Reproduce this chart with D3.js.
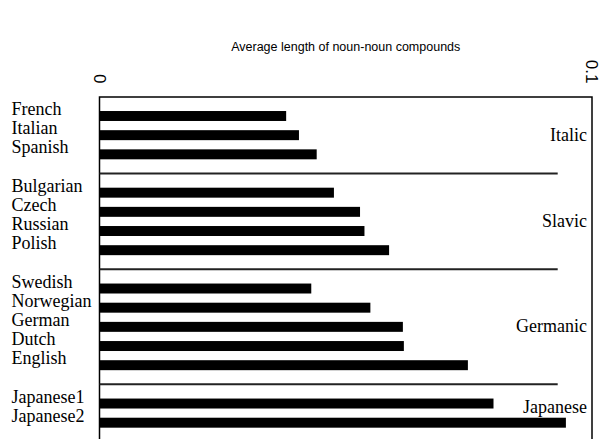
<!DOCTYPE html>
<html>
<head>
<meta charset="utf-8">
<script src="https://cdn.jsdelivr.net/npm/d3@7"></script>
<style>
  html, body { margin: 0; padding: 0; background: #fff; }
  svg { display: block; }
</style>
</head>
<body>
<svg id="chart" width="600" height="439"></svg>
<script>
// ---- data ----
const title = "Average length of noun-noun compounds";
const groups = ["Italic", "Slavic", "Germanic", "Japanese"];
const groupSizes = [3, 4, 5, 2];
const languages = ["French", "Italian", "Spanish",
                   "Bulgarian", "Czech", "Russian", "Polish",
                   "Swedish", "Norwegian", "German", "Dutch", "English",
                   "Japanese1", "Japanese2"];
const values = [0.0379, 0.0405, 0.0441,
                0.0476, 0.0529, 0.0538, 0.0588,
                0.0430, 0.0550, 0.0616, 0.0618, 0.0748,
                0.0800, 0.0947];
const tickValues = [0, 0.1];
const tickLabels = ["0", "0.1"];

(function () {
// ---- layout ----
const svg = d3.select("#chart");
const mLeft = 99.5, mRight = 592, mTop = 97;

const x = d3.scaleLinear().domain([0, 0.1]).range([mLeft, mRight]);

// slots: languages plus one separator slot between groups
const slots = [];
const groupInfo = [];
let idx = 0;
groups.forEach((g, gi) => {
  const members = [];
  for (let k = 0; k < groupSizes[gi]; k++) {
    slots.push({ key: languages[idx], lang: languages[idx], value: values[idx] });
    members.push(languages[idx]);
    idx++;
  }
  groupInfo.push({ name: g, members });
  if (gi < groups.length - 1) slots.push({ key: "sep" + gi, sep: true });
});

const y = d3.scalePoint().domain(slots.map(d => d.key)).range([116, 422.7]);
const barH = y.step() * 0.52;

// frame
svg.append("rect")
  .attr("x", mLeft).attr("y", mTop)
  .attr("width", mRight - mLeft).attr("height", 460 - mTop)
  .attr("fill", "none").attr("stroke", "#000").attr("stroke-width", 1.5);

// bars
const bars = slots.filter(d => !d.sep);
svg.append("g").selectAll("rect").data(bars).join("rect")
  .attr("x", x(0))
  .attr("y", d => y(d.key) - barH / 2)
  .attr("width", d => x(d.value) - x(0))
  .attr("height", barH)
  .attr("fill", "#000");

// language labels
svg.append("g").selectAll("text").data(bars).join("text")
  .attr("x", 11.5)
  .attr("y", d => y(d.key) - 1)
  .attr("font-family", "'Liberation Serif', 'Times New Roman', serif")
  .attr("font-size", 18)
  .attr("fill", "#000")
  .text(d => d.lang);

// separators
const seps = slots.filter(d => d.sep);
svg.append("g").selectAll("line").data(seps).join("line")
  .attr("x1", mLeft).attr("x2", 557.7)
  .attr("y1", d => y(d.key)).attr("y2", d => y(d.key))
  .attr("stroke", "#222").attr("stroke-width", 2);

// group labels (kept above the last bar of the group)
svg.append("g").selectAll("text").data(groupInfo).join("text")
  .attr("x", 587)
  .attr("y", d => {
    const a = y(d.members[0]), b = y(d.members[d.members.length - 1]);
    return Math.min((a + b) / 2 + 5.5, b - barH / 2 - 5);
  })
  .attr("text-anchor", "end")
  .attr("font-family", "'Liberation Serif', 'Times New Roman', serif")
  .attr("font-size", 18)
  .attr("fill", "#000")
  .text(d => d.name);

// top axis tick labels (rotated)
svg.append("g").selectAll("text").data(tickValues).join("text")
  .attr("transform", d => `translate(${x(d)},83.5) rotate(90)`)
  .attr("text-anchor", "end")
  .attr("dy", "0.35em")
  .attr("font-family", "'Liberation Sans', Arial, sans-serif")
  .attr("font-size", 17)
  .attr("fill", "#000")
  .text((d, i) => tickLabels[i]);

// title
svg.append("text")
  .attr("x", (mLeft + mRight) / 2)
  .attr("y", 51)
  .attr("text-anchor", "middle")
  .attr("font-family", "'Liberation Sans', Arial, sans-serif")
  .attr("font-size", 12.5)
  .attr("fill", "#000")
  .text(title);
})();
</script>
</body>
</html>
